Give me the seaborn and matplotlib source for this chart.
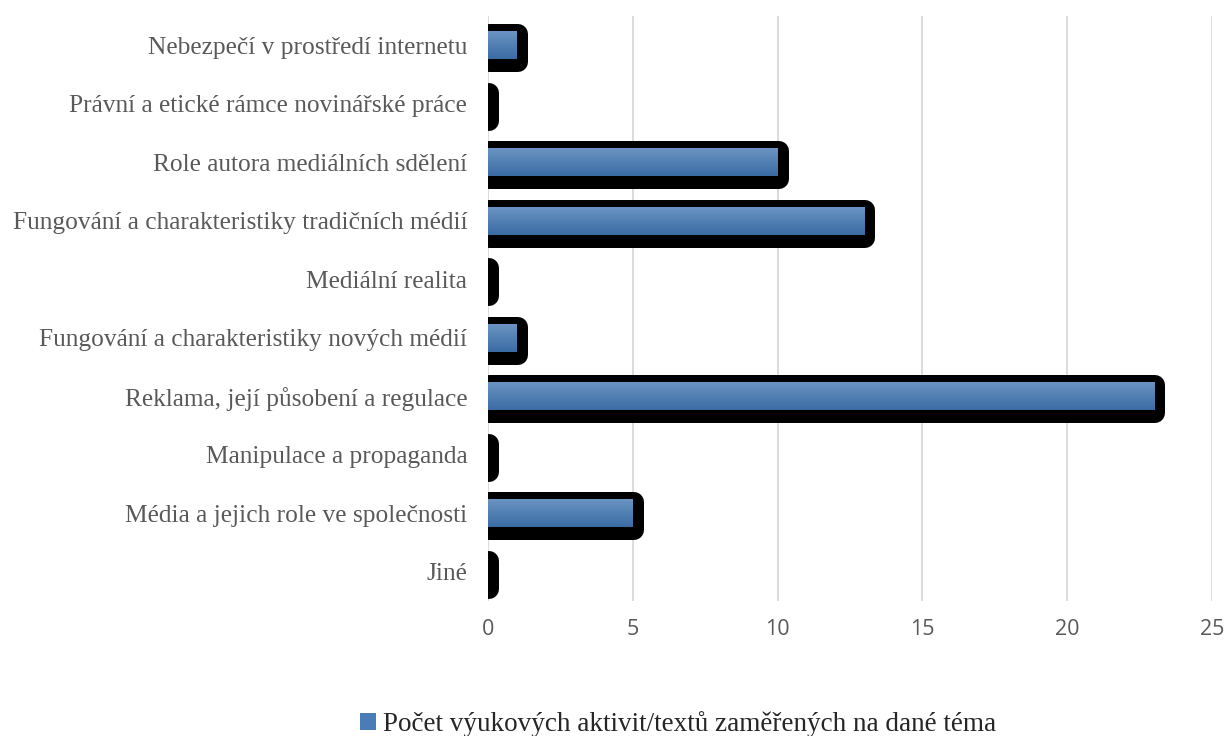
import numpy as np
import pandas as pd
import seaborn as sns
import matplotlib.pyplot as plt
import matplotlib.transforms as mtransforms
from matplotlib.patches import Patch
from matplotlib.colors import LinearSegmentedColormap

categories = [
    "Nebezpečí v prostředí internetu",
    "Právní a etické rámce novinářské práce",
    "Role autora mediálních sdělení",
    "Fungování a charakteristiky tradičních médií",
    "Mediální realita",
    "Fungování a charakteristiky nových médií",
    "Reklama, její působení a regulace",
    "Manipulace a propaganda",
    "Média a jejich role ve společnosti",
    "Jiné",
]
values = [1, 0, 10, 13, 0, 1, 23, 0, 5, 0]
series_name = "Počet výukových aktivit/textů zaměřených na dané téma"
x_ticks = [0, 5, 10, 15, 20, 25]

df = pd.DataFrame({"topic": categories, "count": values})

sns.set_style("white")
serif = ["Liberation Serif", "DejaVu Serif"]
sans = ["Open Sans", "DejaVu Sans"]

fig = plt.figure(figsize=(12.24, 7.36), dpi=100)
ax = fig.add_axes([488 / 1224, 1 - 601 / 736, (1212 - 488) / 1224, 585 / 736])

# black "shadow" bars, offset a little right and down
sns.barplot(data=df, x="count", y="topic", orient="h", color="black",
            width=0.48, ax=ax, saturation=1)
shift = mtransforms.ScaledTranslation(1 / 100, -3 / 100, fig.dpi_scale_trans)
for p in ax.patches:
    p.set_edgecolor("black")
    p.set_linewidth(14.4)
    p.set_joinstyle("round")
    p.set_capstyle("round")
    p.set_transform(ax.transData + shift)
n_shadow = len(ax.patches)

# blue bars on top
sns.barplot(data=df, x="count", y="topic", orient="h", color="#4a7db5",
            width=0.48, ax=ax, saturation=1)
cmap = LinearSegmentedColormap.from_list("bar", ["#6c95c3", "#3a6ca4"])
grad = np.linspace(0, 1, 64).reshape(-1, 1)
for p in ax.patches[n_shadow:]:
    p.set_linewidth(0)
    if p.get_width() <= 0:
        p.set_visible(False)
        continue
    x0, y0 = p.get_x(), p.get_y()
    w, h = p.get_width(), p.get_height()
    im = ax.imshow(grad, cmap=cmap, aspect="auto", origin="upper",
                   extent=[x0, x0 + w, y0 + h, y0], zorder=p.get_zorder() + 0.1)
    im.set_clip_path(p)

ax.set_xlim(0, 25)
ax.set_ylim(len(categories) - 0.5, -0.5)
ax.set_xticks(x_ticks)
ax.xaxis.grid(True, color="#d9d9d9", linewidth=1.3)
ax.set_axisbelow(True)
sns.despine(ax=ax, left=True, bottom=True)
ax.set_xlabel("")
ax.set_ylabel("")
ax.tick_params(axis="both", length=0)
ax.tick_params(axis="x", pad=13)
ax.tick_params(axis="y", pad=15)
for t in ax.get_yticklabels():
    t.set_fontfamily(serif)
    t.set_fontsize(18.3)
    t.set_color("#595959")
for t in ax.get_xticklabels():
    t.set_fontfamily(sans)
    t.set_fontsize(15.5)
    t.set_color("#595959")

handle = Patch(facecolor="#4a7db5", edgecolor="none")
fig.legend([handle], [series_name], loc="lower center",
           bbox_to_anchor=(0.554, -0.035), frameon=False, handlelength=0.6,
           handleheight=0.6, handletextpad=0.25,
           prop={"family": serif, "size": 19.5})

fig.savefig("out.png", dpi=100)
